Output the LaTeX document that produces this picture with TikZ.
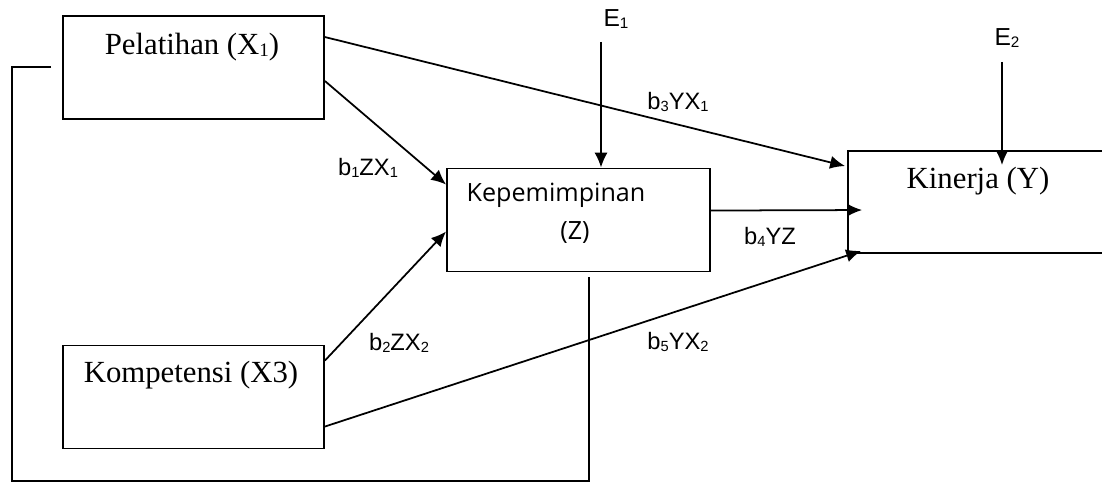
\documentclass[tikz,border=0pt]{standalone}
\usepackage{fontspec}
\usepackage{graphicx}
\setmainfont{Liberation Serif}
\setsansfont{Liberation Sans}
\newfontfamily\opensans{Open Sans}
\usepackage{tikz}
\usetikzlibrary{arrows.meta,positioning,calc}

\newcommand{\subnum}[1]{\raisebox{-0.12ex}{\scalebox{0.62}{#1}}}

\tikzset{
  varbox/.style={draw,line width=1.1pt,minimum width=#1,minimum height=2.06cm,inner sep=0pt},
  boxtext/.style={font=\fontsize{17.5}{20}\selectfont,inner sep=0pt},
  coef/.style={font=\sffamily\fontsize{13.5}{16}\selectfont,inner sep=0pt},
  errtext/.style={font=\sffamily\fontsize{14}{16}\selectfont,inner sep=0pt},
  path/.style={line width=1pt},
}

\begin{document}
\begin{tikzpicture}[x=0.02cm,y=-0.02cm,>={Latex[length=8.5pt,width=7.5pt]}]
      \clip (0,0) rectangle (1102,482);

      \coordinate (p) at (193.5,67.5);
      \coordinate (z) at (578.5,220);
      \coordinate (y) at (980,202);
      \coordinate (k) at (193.5,397);

      \node[varbox=5.22cm] (pel) at (p) {};
      \node[varbox=5.26cm] (kep) at (z) {};
      \node[varbox=5.28cm,minimum height=2.04cm] (kin) at (y) {};
      \node[varbox=5.22cm] (kom) at (k) {};

      \node[boxtext] (pelt) at (192,47) {Pelatihan (X\subnum{1})};
      \node[boxtext,font=\opensans\fontsize{14.3}{17}\selectfont] (kept) at (556,195) {Kepemimpinan};
      \node[boxtext,font=\opensans\fontsize{14.3}{17}\selectfont] (kepz) at (575,233) {(Z)};
      \node[boxtext] (kint) at (978,181) {Kinerja (Y)};
      \node[boxtext] (komt) at (191,375) {Kompetensi (X3)};

      % error terms
      \node[errtext] (e1) at (616,19) {E\subnum{1}};
      \node[errtext] (e2) at (1007,38) {E\subnum{2}};
      \coordinate (e1top) at (601,42);
      \coordinate (e2top) at (1002,62);
      \draw[->,path] (e1top) -- (e1top |- kep.north);
      \draw[->,path] (e2top) -- ($(e2top |- kin.north)+(0,15)$);

      % paths
      \draw[->,path] ($(pel.north east)+(0,22)$) -- ($(kin.north west)+(-2,16)$);
      \draw[->,path] ($(pel.north east)+(0,66)$) -- ($(kep.north west)+(0,17)$);
      \draw[->,path] ($(kom.north east)+(0,16)$) -- ($(kep.north west)+(0,64)$);
      \draw[->,path] ($(kep.north east)+(0,43)$) -- ($(kin.north west)+(15,60)$);
      \draw[->,path] ($(kom.north east)+(0,82)$) -- ($(kin.south west)+(14,-3)$);

      \node[coef] (b3) at (678,102) {b\subnum{3}YX\subnum{1}};
      \node[coef] (b1) at (368,168) {b\subnum{1}ZX\subnum{1}};
      \node[coef] (b2) at (399,343) {b\subnum{2}ZX\subnum{2}};
      \node[coef] (b4) at (770,237) {b\subnum{4}YZ};
      \node[coef] (b5) at (678,342) {b\subnum{5}YX\subnum{2}};

      % correlation line
      \coordinate (lpa) at (51,67);
      \coordinate (lpb) at (589,277);
      \draw[path] (lpa) -- (12,67) -- (12,481) -- (lpb |- 0,481) -- (lpb);

\end{tikzpicture}
\end{document}
